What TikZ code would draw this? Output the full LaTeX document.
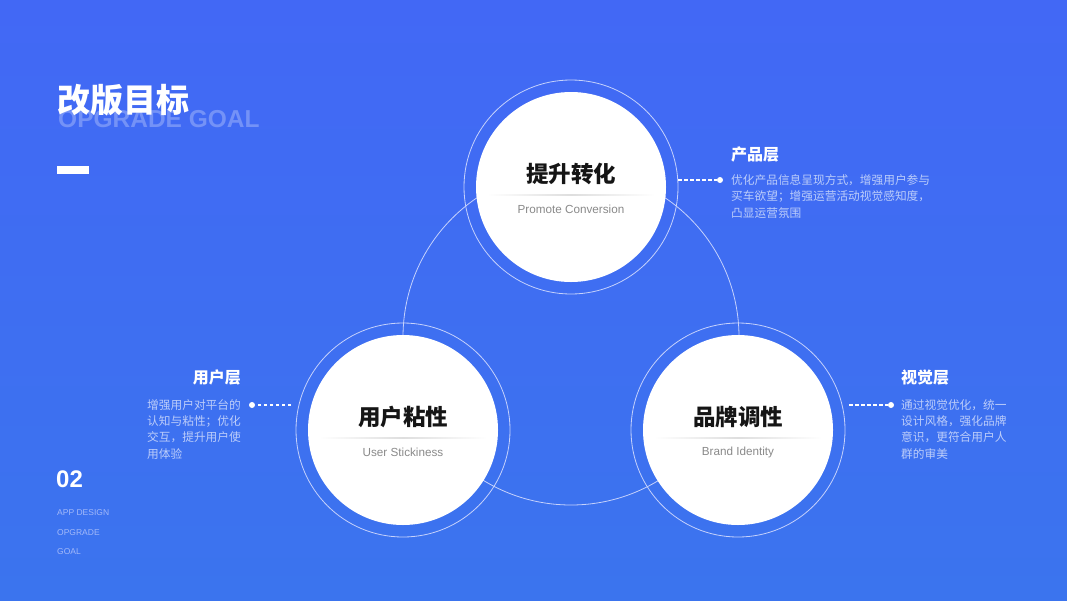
\documentclass[tikz,border=0pt]{standalone}
\usepackage{fontspec}
\setmainfont{Liberation Sans}
\newfontfamily\cjk{Noto Sans CJK SC}
\usetikzlibrary{positioning, calc}
\definecolor{bgtop}{HTML}{4268F5}
\definecolor{bgbot}{HTML}{3B74EE}
\definecolor{bodytxt}{HTML}{BCCDFA}
\definecolor{ghost}{HTML}{7492F7}
\definecolor{smalltxt}{HTML}{A3B9F9}
\definecolor{titleblack}{HTML}{151515}
\definecolor{subgray}{HTML}{8A8A8A}

\tikzset{
    core/.style={circle, fill=white, minimum size=190, inner sep=0},
    halo/.style={circle, draw=white!70!bgtop, line width=0.8, minimum size=214, inner sep=0},
    ctitle/.style={font=\cjk\bfseries\fontsize{22.5}{26}\selectfont, text=titleblack, inner sep=0},
    csub/.style={font=\fontsize{11.7}{14}\selectfont, text=subgray, inner sep=0},
    layer/.style={font=\cjk\bfseries\fontsize{16}{19}\selectfont, text=white, inner sep=0},
    body/.style={font=\cjk\fontsize{11.7}{16.2}\selectfont, text=bodytxt, inner sep=0, align=left},
    dashlink/.style={white, line width=1.2, dash pattern=on 3.5 off 2.5},
    dot/.style={circle, fill=white, minimum size=6, inner sep=0},
    tag/.style={font=\fontsize{8.5}{10}\selectfont, text=smalltxt, inner sep=0, anchor=west},
}

\begin{document}
\begin{tikzpicture}[x=1pt, y=-1pt]
    \useasboundingbox (0,0) rectangle (1067,600);
    \shade[top color=bgtop, bottom color=bgbot] (0,0) rectangle (1067,600);

    % heading
    \node[anchor=west, inner sep=0, font=\bfseries\fontsize{24.5}{28}\selectfont, text=ghost] (ghostline) at (58,119) {OPGRADE GOAL};
    \node[anchor=west, inner sep=0, font=\cjk\bfseries\fontsize{33}{38}\selectfont, text=white] (head) at (57,100) {改版目标};
    \fill[white] (57,166) rectangle (89,174);

    % page number
    \node[anchor=west, inner sep=0, font=\bfseries\fontsize{24}{28}\selectfont, text=white] (pageno) at (56,479) {02};
    \node[tag] (tag1) at (57,513) {APP DESIGN};
    \node[tag] (tag2) at (57,533) {OPGRADE};
    \node[tag] (tag3) at (57,552) {GOAL};

    % orbit behind the circles
    \node[circle, draw=white!70!bgtop, line width=0.8, minimum size=336, inner sep=0] (orbit) at (571,337) {};

    % three circles
    \node[core] (conv) at (571,187) {};
    \node[halo] (convhalo) at (conv) {};
    \node[core] (stick) at (403,430) {};
    \node[halo] (stickhalo) at (stick) {};
    \node[core] (brand) at (738,430) {};
    \node[halo] (brandhalo) at (brand) {};

    \foreach \c in {conv, stick, brand} {
        \shade[left color=white, right color=white, middle color=black!13]
            ($(\c.center)+(-84,7.4)$) rectangle ($(\c.center)+(84,8.6)$);
    }

    \node[ctitle] (convtitle) at ($(conv)+(0,-13)$) {提升转化};
    \node[csub] (convsub) at ($(conv)+(0,22.5)$) {Promote Conversion};
    \node[ctitle] (sticktitle) at ($(stick)+(0,-13)$) {用户粘性};
    \node[csub] (sticksub) at ($(stick)+(0,22.5)$) {User Stickiness};
    \node[ctitle] (brandtitle) at ($(brand)+(0,-13)$) {品牌调性};
    \node[csub] (brandsub) at ($(brand)+(0,22.5)$) {Brand Identity};

    % product layer
    \node[dot] (convdot) at (720,180) {};
    \draw[dashlink] (678,180) -- (convdot);
    \node[layer, anchor=west] (prodlayer) at (731,154) {产品层};
    \node[body, anchor=north west] (prodtext) at (731,174.5)
        {优化产品信息呈现方式，增强用户参与\\买车欲望；增强运营活动视觉感知度，\\凸显运营氛围};

    % user layer
    \node[dot] (stickdot) at (252,405) {};
    \draw[dashlink] (291,405) -- (stickdot);
    \node[layer, anchor=east] (userlayer) at (241,377) {用户层};
    \node[body, anchor=north west] (usertext) at (147,399.5)
        {增强用户对平台的\\认知与粘性；优化\\交互，提升用户使\\用体验};

    % visual layer
    \node[dot] (branddot) at (891,405) {};
    \draw[dashlink] (849,405) -- (branddot);
    \node[layer, anchor=west] (vislayer) at (901,377) {视觉层};
    \node[body, anchor=north west] (vistext) at (901,399.5)
        {通过视觉优化，统一\\设计风格，强化品牌\\意识，更符合用户人\\群的审美};
\end{tikzpicture}
\end{document}
